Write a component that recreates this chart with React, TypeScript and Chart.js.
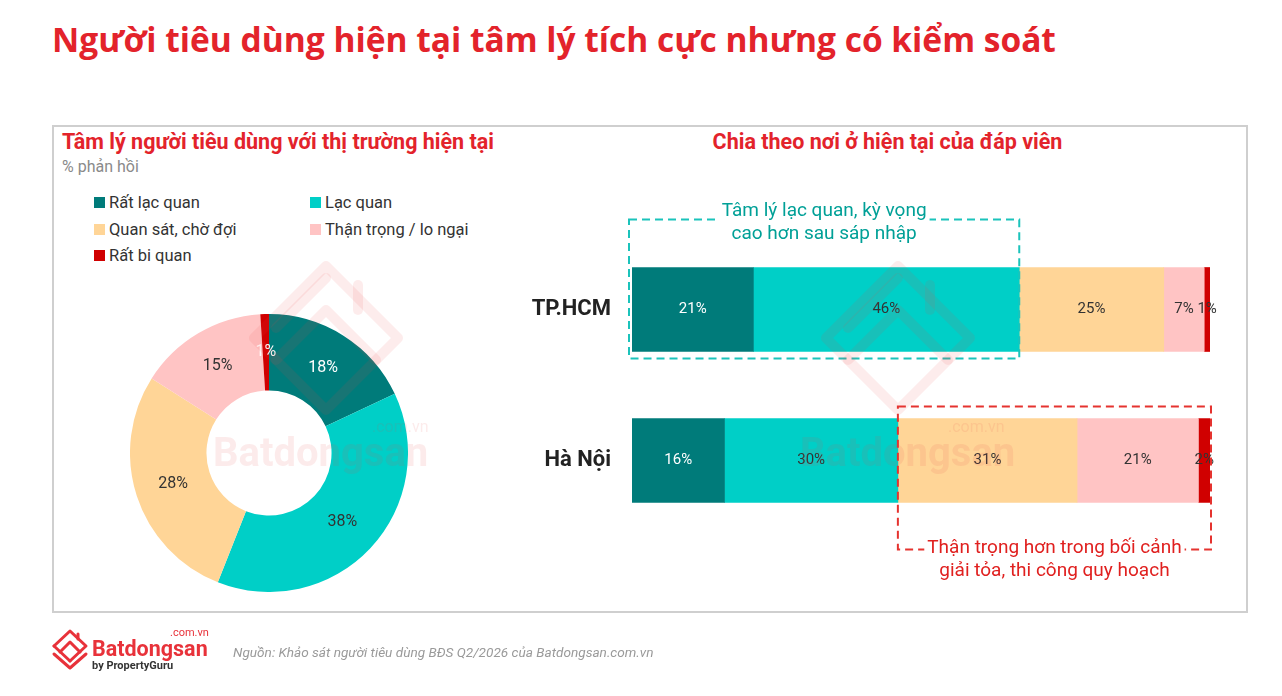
import React, { useEffect, useRef } from "react";
import { Chart, registerables } from "chart.js";

Chart.register(...registerables);

// ---------- DATA ----------
const sentimentLabels = ["Rất lạc quan", "Lạc quan", "Quan sát, chờ đợi", "Thận trọng / lo ngại", "Rất bi quan"];
const overallValues = [18, 38, 28, 15, 1];
const cities = ["TP.HCM", "Hà Nội"];
const hcmValues = [21, 46, 25, 7, 1];
const hanoiValues = [16, 30, 31, 21, 2];
const cityValues = [hcmValues, hanoiValues];

const notes = [
  { city: 0, from: 0, to: 2, side: "top", lines: ["Tâm lý lạc quan, kỳ vọng", "cao hơn sau sáp nhập"] },
  { city: 1, from: 2, to: 5, side: "bottom", lines: ["Thận trọng hơn trong bối cảnh", "giải tỏa, thi công quy hoạch"] },
];

// ---------- STYLE ----------
const sentimentColors = ["#007B7A", "#00CFC7", "#FFD597", "#FFC4C4", "#D00000"];
const donutLabelColors = ["#FFFFFF", "#333333", "#333333", "#333333", "#FFFFFF"];
const barLabelColors = ["#FFFFFF", "#333333", "#333333", "#333333", "#333333"];
const RED = "#E3232B";
const FONT = "Roboto, 'Noto Sans', sans-serif";

const sum = (a: number[]) => a.reduce((s, v) => s + v, 0);

const doughnutLabels = {
  id: "doughnutLabels",
  afterDatasetsDraw(chart: any) {
    const ctx = chart.ctx;
    const meta = chart.getDatasetMeta(0);
    ctx.save();
    ctx.font = `16px ${FONT}`;
    ctx.textAlign = "center";
    ctx.textBaseline = "middle";
    meta.data.forEach((arc: any, i: number) => {
      const p = arc.getCenterPoint();
      ctx.fillStyle = donutLabelColors[i];
      ctx.fillText(`${overallValues[i]}%`, p.x, p.y);
    });
    ctx.restore();
  },
};

const barLabels = {
  id: "barLabels",
  afterDatasetsDraw(chart: any) {
    const ctx = chart.ctx;
    ctx.save();
    ctx.font = `15px ${FONT}`;
    ctx.textAlign = "center";
    ctx.textBaseline = "middle";
    chart.data.datasets.forEach((ds: any, di: number) => {
      const meta = chart.getDatasetMeta(di);
      meta.data.forEach((bar: any, i: number) => {
        ctx.fillStyle = barLabelColors[di];
        ctx.fillText(`${ds.data[i]}%`, (bar.x + bar.base) / 2, bar.y);
      });
    });
    ctx.restore();
  },
};

const noteStyles: any = {
  top: { border: "#1BC3BB", text: "#00A097", padL: -3, padR: 0, padT: 48, padB: 7 },
  bottom: { border: "#E5332F", text: "#E0201F", padL: 0, padR: 1, padT: 12, padB: 47 },
};

const notesPlugin = {
  id: "notes",
  afterDatasetsDraw(chart: any) {
    const ctx = chart.ctx;
    const xs = chart.scales.x;
    notes.forEach((n) => {
      const st = noteStyles[n.side];
      const bar = chart.getDatasetMeta(0).data[n.city];
      const barTop = bar.y - bar.height / 2;
      const barBottom = bar.y + bar.height / 2;
      const vals = cityValues[n.city];
      const x0 = xs.getPixelForValue(sum(vals.slice(0, n.from))) + st.padL;
      const x1 = xs.getPixelForValue(sum(vals.slice(0, n.to))) + st.padR;
      const y0 = barTop - st.padT;
      const y1 = barBottom + st.padB;
      ctx.save();
      ctx.strokeStyle = st.border;
      ctx.lineWidth = 2;
      ctx.setLineDash([8, 5]);
      ctx.strokeRect(x0, y0, x1 - x0, y1 - y0);
      ctx.setLineDash([]);
      ctx.font = `19px ${FONT}`;
      ctx.textAlign = "center";
      ctx.textBaseline = "middle";
      const cx = (x0 + x1) / 2;
      const lineY = n.side === "top" ? [y0 - 8, y0 + 15] : [y1 - 1, y1 + 22];
      const w = ctx.measureText(n.lines[0]).width;
      ctx.fillStyle = "#FFFFFF";
      const edge = n.side === "top" ? y0 : y1;
      ctx.fillRect(cx - w / 2 - 3, edge - 3, w + 6, 6);
      ctx.fillStyle = st.text;
      n.lines.forEach((l, i) => ctx.fillText(l, cx, lineY[i]));
      ctx.restore();
    });
  },
};

function Watermark({ x, y }: { x: number; y: number }) {
  const c = "rgba(232,70,70,0.10)";
  return (
    <g transform={`translate(${x},${y})`}>
      <path d="M -72 8 L 0 -64 L 72 8 L 0 80 Z" fill="none" stroke={c} strokeWidth={10} strokeLinejoin="round" />
      <path d="M -50 30 L 0 -20 L 50 30" fill="none" stroke={c} strokeWidth={10} strokeLinejoin="round" strokeLinecap="round" />
      <path d="M -50 -2 L 0 -52" fill="none" stroke={c} strokeWidth={10} strokeLinecap="round" />
      <path d="M 32 -45 L 32 -20" fill="none" stroke={c} strokeWidth={10} strokeLinecap="round" />
    </g>
  );
}

export default function App() {
  const donutRef = useRef<HTMLCanvasElement>(null);
  const barRef = useRef<HTMLCanvasElement>(null);

  useEffect(() => {
    const donut = new Chart(donutRef.current!, {
      type: "doughnut",
      data: {
        labels: sentimentLabels,
        datasets: [
          {
            data: overallValues,
            backgroundColor: sentimentColors,
            borderWidth: 0,
            hoverOffset: 0,
            offset: 0,
          },
        ],
      },
      options: {
        responsive: false,
        animation: false,
        events: [],
        cutout: "45%",
        layout: { padding: 0 },
        plugins: { legend: { display: false }, tooltip: { enabled: false } },
      },
      plugins: [doughnutLabels],
    } as any);

    const bar = new Chart(barRef.current!, {
      type: "bar",
      data: {
        labels: cities,
        datasets: sentimentLabels.map((l, i) => ({
          label: l,
          data: [hcmValues[i], hanoiValues[i]],
          backgroundColor: sentimentColors[i],
          borderWidth: 0,
          barThickness: 84,
        })),
      },
      options: {
        responsive: false,
        animation: false,
        events: [],
        indexAxis: "y",
        layout: { padding: { top: 54, bottom: 54, left: 0, right: 30 } },
        scales: {
          x: { stacked: true, min: 0, max: 100, display: false },
          y: {
            stacked: true,
            grid: { display: false, drawTicks: false },
            border: { display: false },
            ticks: { font: { family: FONT, size: 22, weight: "bold" }, color: "#222222", padding: 21 },
            afterFit: (s: any) => {
              s.width = 132;
            },
          },
        },
        plugins: { legend: { display: false }, tooltip: { enabled: false } },
      },
      plugins: [barLabels, notesPlugin],
    } as any);

    return () => {
      donut.destroy();
      bar.destroy();
    };
  }, []);

  const abs = (o: any) => ({ position: "absolute" as const, ...o });

  return (
    <div style={{ position: "fixed", left: 0, top: 0, width: 1282, height: 696, background: "#fff", overflow: "hidden", fontFamily: FONT }}>
      <div style={abs({ left: 52, top: 16, fontFamily: "'Open Sans', sans-serif", fontWeight: 700, fontSize: 33.5, color: RED, whiteSpace: "nowrap" })}>
        Người tiêu dùng hiện tại tâm lý tích cực nhưng có kiểm soát
      </div>
      <div style={abs({ left: 52, top: 125, width: 1192, height: 484, border: "2px solid #CFCFCF" })} />
      <div style={abs({ left: 62, top: 129, fontWeight: 700, fontSize: 21.5, color: RED, whiteSpace: "nowrap" })}>
        Tâm lý người tiêu dùng với thị trường hiện tại
      </div>
      <div style={abs({ left: 62, top: 157, fontSize: 16, color: "#8A8A8A", whiteSpace: "nowrap" })}>% phản hồi</div>
      {sentimentLabels.map((l, i) => (
        <div
          key={l}
          style={abs({
            left: i % 2 === 0 ? 94 : 310,
            top: 193 + Math.floor(i / 2) * 26.5,
            display: "flex",
            alignItems: "center",
            fontSize: 16.5,
            color: "#333",
            whiteSpace: "nowrap",
          })}
        >
          <span style={{ display: "inline-block", width: 11, height: 11, background: sentimentColors[i], marginRight: 4 }} />
          {l}
        </div>
      ))}
      <div style={abs({ left: 600, top: 129, width: 575, textAlign: "center", fontWeight: 700, fontSize: 21.5, color: RED, whiteSpace: "nowrap" })}>
        Chia theo nơi ở hiện tại của đáp viên
      </div>
      <canvas ref={donutRef} width={278} height={278} style={abs({ left: 130, top: 314 })} />
      <canvas ref={barRef} width={740} height={410} style={abs({ left: 500, top: 180 })} />

      <svg width={1282} height={696} style={abs({ left: 0, top: 0, pointerEvents: "none" })}>
        <Watermark x={326} y={330} />
        <Watermark x={898} y={330} />
        <text x={213} y={466} fontFamily={FONT} fontWeight={700} fontSize={40} fill="rgba(232,70,70,0.11)">Batdongsan</text>
        <text x={372} y={432} fontFamily={FONT} fontSize={16} fill="rgba(232,70,70,0.11)">.com.vn</text>
        <text x={800} y={466} fontFamily={FONT} fontWeight={700} fontSize={40} fill="rgba(232,70,70,0.11)">Batdongsan</text>
        <text x={948} y={432} fontFamily={FONT} fontSize={16} fill="rgba(232,70,70,0.11)">.com.vn</text>

        <g transform="translate(52,628)" fill="none" stroke="#E8323A" strokeWidth={3} strokeLinejoin="round" strokeLinecap="round">
          <path d="M 2 18 L 18 3 L 34 18 L 18 33" />
          <path d="M 2 18 L 18 33" />
          <path d="M 8 24 L 18 14 L 28 24" />
          <path d="M 2 26 L 18 40 L 34 26" />
          <path d="M 26 6 L 26 11" />
        </g>
        <text x={92} y={656} fontFamily={FONT} fontWeight={700} fontSize={21.5} fill="#E8323A">Batdongsan</text>
        <text x={170} y={636} fontFamily={FONT} fontSize={11} fill="#E8323A">.com.vn</text>
        <text x={92} y={669} fontFamily={FONT} fontWeight={700} fontSize={11} fill="#333">by PropertyGuru</text>
        <text x={233} y={657} fontFamily={FONT} fontStyle="italic" fontSize={13.6} fill="#9A9A9A">
          Nguồn: Khảo sát người tiêu dùng BĐS Q2/2026 của Batdongsan.com.vn
        </text>
      </svg>
    </div>
  );
}
